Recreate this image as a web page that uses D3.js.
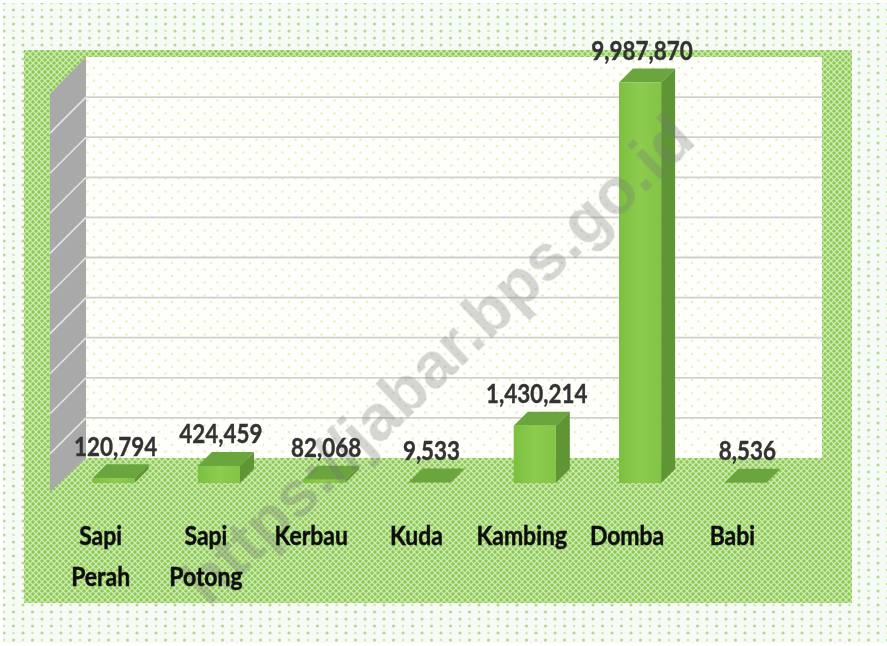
<!DOCTYPE html>
<html><head><meta charset="utf-8">
<script src="https://cdnjs.cloudflare.com/ajax/libs/d3/7.8.5/d3.min.js"></script>
<style>html,body{margin:0;padding:0;background:#fff}svg{display:block}</style>
</head><body><div id="c"></div>
<script>
const categories = ["Sapi Perah","Sapi Potong","Kerbau","Kuda","Kambing","Domba","Babi"];
const values = [120794,424459,82068,9533,1430214,9987870,8536];
const watermark = "https://jabar.bps.go.id";

const W=887,H=646, dx=14, dy=14;
const svg=d3.select("#c").append("svg").attr("width",W).attr("height",H);
const defs=svg.append("defs");
defs.append("filter").attr("id","soft").append("feGaussianBlur").attr("stdDeviation",0.45);
const tf=defs.append("filter").attr("id","softT");tf.append("feGaussianBlur").attr("stdDeviation",0.45);

const dots=defs.append("pattern").attr("id","dots").attr("patternUnits","userSpaceOnUse").attr("width",19).attr("height",14);
dots.append("rect").attr("width",19).attr("height",14).attr("fill","#f7fbf5");
[[4,3],[13.5,10]].forEach(p=>dots.append("circle").attr("cx",p[0]).attr("cy",p[1]).attr("r",1.6).attr("fill","#b3d993"));
[[13.5,3],[4,10]].forEach(p=>dots.append("circle").attr("cx",p[0]).attr("cy",p[1]).attr("r",1.2).attr("fill","#cde6b3"));

const wd=defs.append("pattern").attr("id","wallDots").attr("patternUnits","userSpaceOnUse").attr("width",13).attr("height",13);
wd.append("rect").attr("width",13).attr("height",13).attr("fill","#fefefb");
[[3,3],[9.5,9.5]].forEach(p=>wd.append("circle").attr("cx",p[0]).attr("cy",p[1]).attr("r",1.3).attr("fill","#e8f1c8"));

const hatch=defs.append("pattern").attr("id","hatch").attr("patternUnits","userSpaceOnUse").attr("width",6).attr("height",6);
hatch.append("rect").attr("width",6).attr("height",6).attr("fill","#8aca50");
hatch.append("path").attr("d","M0 0L6 6M6 0L0 6").attr("stroke","#d0eab5").attr("stroke-width",1.25);

svg.append("rect").attr("x",3).attr("y",3).attr("width",W-3).attr("height",H-6).attr("fill","url(#dots)");
svg.append("rect").attr("x",24).attr("y",50).attr("width",828).attr("height",553).attr("fill","url(#hatch)");

const backL=86, backR=822, backT=57, backB=458, depthX=36, depthY=34;
const y=d3.scaleLinear().domain([0,10000000]).range([483,82]);
const yBack=d3.scaleLinear().domain([0,10000000]).range([backB,backT]);
const x=d3.scaleBand().domain(categories).range([61,798]).paddingInner(0.6).paddingOuter(0.3);

const plot=svg.append("g").attr("filter","url(#soft)");
plot.append("rect").attr("x",backL).attr("y",backT).attr("width",backR-backL).attr("height",backB-backT).attr("fill","url(#wallDots)");
plot.append("path").attr("d",`M${backL} ${backT}L${backL-depthX} ${backT+depthY+3}L${backL-depthX} ${backB+depthY}L${backL} ${backB}Z`).attr("fill","#a9a9a9");

const ticks=y.ticks(10).slice(1,-1);
plot.selectAll("line.g").data(ticks).join("line").attr("class","g")
  .attr("x1",backL).attr("x2",backR).attr("y1",d=>yBack(d)).attr("y2",d=>yBack(d))
  .attr("stroke","#d2d0cf").attr("stroke-width",1.8);
plot.selectAll("line.s").data(ticks).join("line").attr("class","s")
  .attr("x1",backL).attr("x2",backL-depthX).attr("y1",d=>yBack(d)).attr("y2",d=>yBack(d)+depthY+2)
  .attr("stroke","#e4e4e4").attr("stroke-width",1.6);

const grad=defs.append("linearGradient").attr("id","front").attr("x1",0).attr("x2",1).attr("y1",0).attr("y2",0);
grad.append("stop").attr("offset",0).attr("stop-color","#7cc040");
grad.append("stop").attr("offset",0.5).attr("stop-color","#8ccc4e");
grad.append("stop").attr("offset",1).attr("stop-color","#82c445");

const bars=plot.selectAll("g.bar").data(categories.map((c,i)=>({c,v:values[i]}))).join("g").attr("class","bar");
const bw=x.bandwidth();
bars.append("path").attr("fill","#5e9536").attr("d",d=>{
  const a=x(d.c)+bw,t=y(d.v),b=y(0);
  return `M${a} ${t}L${a+dx} ${t-dy}L${a+dx} ${b-dy}L${a} ${b}Z`;});
bars.append("path").attr("fill","#6ba53c").attr("d",d=>{
  const a=x(d.c),t=y(d.v);
  return `M${a} ${t}L${a+dx} ${t-dy}L${a+bw+dx} ${t-dy}L${a+bw} ${t}Z`;});
bars.append("rect").attr("x",d=>x(d.c)).attr("y",d=>y(d.v)).attr("width",bw).attr("height",d=>y(0)-y(d.v)).attr("fill","url(#front)");

svg.append("text").attr("transform","translate(453,375) rotate(-43.5)")
  .attr("text-anchor","middle").attr("font-family","Liberation Sans, sans-serif").attr("font-weight",700)
  .attr("font-size",65).attr("fill","#777").attr("fill-opacity",0.3).attr("filter","url(#softT)").text(watermark);

const txt=svg.append("g").attr("filter","url(#softT)").attr("font-family","Lato, sans-serif").attr("font-weight",700).attr("text-anchor","middle");
txt.selectAll("text.v").data(categories.map((c,i)=>({c,v:values[i]}))).join("text").attr("class","v")
  .attr("transform",d=>`translate(${x(d.c)+bw/2+2},${y(d.v)-22.5}) scale(0.83,1)`)
  .attr("font-size",27).attr("fill","#333").attr("stroke","#333").attr("stroke-width",0.4).text(d=>d3.format(",")(d.v));
const cat=txt.selectAll("g.c").data(categories).join("g").attr("class","c")
  .attr("transform",d=>`translate(${x(d)+bw/2-13},545) scale(0.85,1)`);
cat.selectAll("text").data(d=>d.split(" ")).join("text")
  .attr("y",(d,i)=>i*41).attr("font-size",27).attr("fill","#111").attr("stroke","#111").attr("stroke-width",0.5).text(d=>d);
</script></body></html>
